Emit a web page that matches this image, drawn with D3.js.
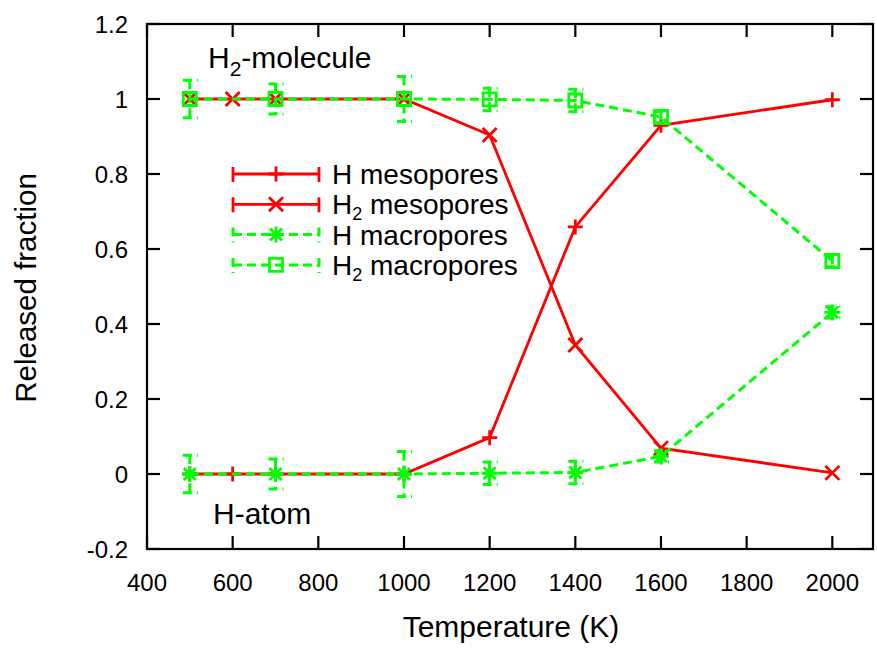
<!DOCTYPE html>
<html>
<head>
<meta charset="utf-8">
<script src="https://cdn.jsdelivr.net/npm/d3@7"></script>
<style>
  html, body { margin: 0; padding: 0; background: #fff; }
  svg { display: block; font-family: "Liberation Sans", Arial, sans-serif; }
</style>
</head>
<body>
<svg id="chart" width="877" height="648"></svg>
<script>
// Temperatures (K) sampled for each pore type
const mesoTemps = [500, 600, 700, 1000, 1200, 1400, 1600, 2000];
const macroTemps = [500, 700, 1000, 1200, 1400, 1600, 2000];

// Released fractions
const hMeso = [0, 0, 0, 0, 0.097, 0.659, 0.930, 0.998];
const h2Meso = [1, 1, 1, 1, 0.904, 0.344, 0.069, 0.003];
const hMacro = [0, 0, 0, 0.002, 0.004, 0.047, 0.431];
const h2Macro = [1, 1, 1, 0.999, 0.996, 0.952, 0.568];
// Error bar half-widths for macropores
const hMacroErr = [0.05, 0.04, 0.06, 0.03, 0.03, 0.015, 0.015];
const h2MacroErr = [0.05, 0.04, 0.06, 0.03, 0.03, 0.015, 0.015];

// Axis ticks
const xTicks = [400, 600, 800, 1000, 1200, 1400, 1600, 1800, 2000];
const yTicks = [-0.2, 0, 0.2, 0.4, 0.6, 0.8, 1, 1.2];

const legendLabels = [
  {main: "H", sub: null, rest: " mesopores"},
  {main: "H", sub: "2", rest: " mesopores"},
  {main: "H", sub: null, rest: " macropores"},
  {main: "H", sub: "2", rest: " macropores"}
];

const RED = "#ff0000", GREEN = "#00ff00";
const DASH = "9,5";

const svg = d3.select("#chart");
const frame = {left: 147, right: 873, top: 24, bottom: 549};

const x = d3.scaleLinear().domain([400, 2095]).range([frame.left, frame.right]);
const y = d3.scaleLinear().domain([-0.2, 1.2]).range([frame.bottom, frame.top]);

// Marker shapes
const markers = {
  plus: "M-7.5,0H7.5M0,-7.5V7.5",
  cross: "M-7,-7L7,7M-7,7L7,-7",
  star: "M-8,0H8M0,-8V8M-6,-6L6,6M-6,6L6,-6",
  square: "M-6.5,-6.5H6.5V6.5H-6.5Z"
};

const series = [
  {t: mesoTemps, v: hMeso, err: null, color: RED, dash: null, marker: "plus", lw: 2.8},
  {t: mesoTemps, v: h2Meso, err: null, color: RED, dash: null, marker: "cross", lw: 2.8},
  {t: macroTemps, v: hMacro, err: hMacroErr, color: GREEN, dash: DASH, marker: "star", lw: 3},
  {t: macroTemps, v: h2Macro, err: h2MacroErr, color: GREEN, dash: DASH, marker: "square", lw: 3}
];

const plot = svg.append("g");
const line = d3.line().x(d => x(d[0])).y(d => y(d[1]));

series.forEach(s => {
  const pts = s.t.map((t, i) => [t, s.v[i], s.err ? s.err[i] : 0]);
  const g = plot.append("g");
  g.append("path")
    .attr("d", line(pts))
    .attr("fill", "none")
    .attr("stroke", s.color)
    .attr("stroke-width", s.lw)
    .attr("stroke-dasharray", s.dash);
  if (s.err) {
    pts.forEach(p => {
      const cx = x(p[0]), y0 = y(p[1] - p[2]), y1 = y(p[1] + p[2]);
      const eb = g.append("g")
        .attr("stroke", s.color)
        .attr("stroke-width", s.lw)
        .attr("stroke-dasharray", s.dash)
        .attr("fill", "none");
      eb.append("line").attr("x1", cx).attr("x2", cx).attr("y1", y1).attr("y2", y0);
      eb.append("line").attr("x1", cx - 7).attr("x2", cx + 8).attr("y1", y1).attr("y2", y1);
      eb.append("line").attr("x1", cx - 7).attr("x2", cx + 8).attr("y1", y0).attr("y2", y0);
    });
  }
  g.selectAll("path.mk")
    .data(pts)
    .join("path")
    .attr("class", "mk")
    .attr("d", markers[s.marker])
    .attr("transform", d => `translate(${x(d[0])},${y(d[1])})`)
    .attr("fill", "none")
    .attr("stroke", s.color)
    .attr("stroke-width", 2.8);
});

// Frame and inward ticks on all four sides
const axes = svg.append("g").attr("stroke", "#000").attr("stroke-width", 2.2);
axes.append("rect")
  .attr("x", frame.left).attr("y", frame.top)
  .attr("width", frame.right - frame.left).attr("height", frame.bottom - frame.top)
  .attr("fill", "none");
const TL = 13;
xTicks.forEach(v => {
  axes.append("line").attr("x1", x(v)).attr("x2", x(v)).attr("y1", frame.bottom).attr("y2", frame.bottom - TL);
  axes.append("line").attr("x1", x(v)).attr("x2", x(v)).attr("y1", frame.top).attr("y2", frame.top + TL);
});
yTicks.forEach(v => {
  axes.append("line").attr("x1", frame.left).attr("x2", frame.left + TL).attr("y1", y(v)).attr("y2", y(v));
  axes.append("line").attr("x1", frame.right).attr("x2", frame.right - TL).attr("y1", y(v)).attr("y2", y(v));
});

const fmtY = v => (Math.abs(v) < 1e-9 ? "0" : (Number.isInteger(v) ? String(v) : v.toFixed(1)));

svg.append("g").selectAll("text")
  .data(xTicks).join("text")
  .attr("x", d => x(d)).attr("y", 591)
  .attr("text-anchor", "middle")
  .attr("font-size", 24)
  .text(d => d);

svg.append("g").selectAll("text")
  .data(yTicks).join("text")
  .attr("x", 128).attr("y", d => y(d) + 8.5)
  .attr("text-anchor", "end")
  .attr("font-size", 24)
  .text(fmtY);

// Axis titles
svg.append("text")
  .attr("x", 511).attr("y", 637)
  .attr("text-anchor", "middle")
  .attr("font-size", 30)
  .text("Temperature (K)");
svg.append("text")
  .attr("transform", "translate(36,288) rotate(-90)")
  .attr("text-anchor", "middle")
  .attr("font-size", 29.5)
  .text("Released fraction");

// Region annotations
const ann1 = svg.append("text").attr("x", 208).attr("y", 68).attr("font-size", 30);
ann1.append("tspan").text("H");
ann1.append("tspan").attr("dy", 8).attr("font-size", 21).text("2");
ann1.append("tspan").attr("dy", -8).text("-molecule");
svg.append("text").attr("x", 213).attr("y", 524).attr("font-size", 30).text("H-atom");

// Legend
const legend = svg.append("g");
const ly0 = 174, lstep = 30.3, lx0 = 233, lx1 = 319, lmx = 276;
series.forEach((s, i) => {
  const ly = ly0 + i * lstep;
  const g = legend.append("g")
    .attr("stroke", s.color)
    .attr("stroke-width", s.lw)
    .attr("fill", "none")
    .attr("stroke-dasharray", s.dash);
  g.append("line").attr("x1", lx0).attr("x2", lx1).attr("y1", ly).attr("y2", ly);
  g.append("line").attr("x1", lx0).attr("x2", lx0).attr("y1", ly - 7).attr("y2", ly + 8);
  g.append("line").attr("x1", lx1).attr("x2", lx1).attr("y1", ly - 7).attr("y2", ly + 8);
  legend.append("path")
    .attr("d", markers[s.marker])
    .attr("transform", `translate(${lmx},${ly})`)
    .attr("fill", "none")
    .attr("stroke", s.color)
    .attr("stroke-width", 2.8);
  const lab = legendLabels[i];
  const t = legend.append("text").attr("x", 332).attr("y", ly + 10).attr("font-size", 28);
  t.append("tspan").text(lab.main);
  if (lab.sub) {
    t.append("tspan").attr("dy", 6).attr("font-size", 18).text(lab.sub);
    t.append("tspan").attr("dy", -6).text(lab.rest);
  } else {
    t.append("tspan").text(lab.rest);
  }
});
</script>
</body>
</html>
